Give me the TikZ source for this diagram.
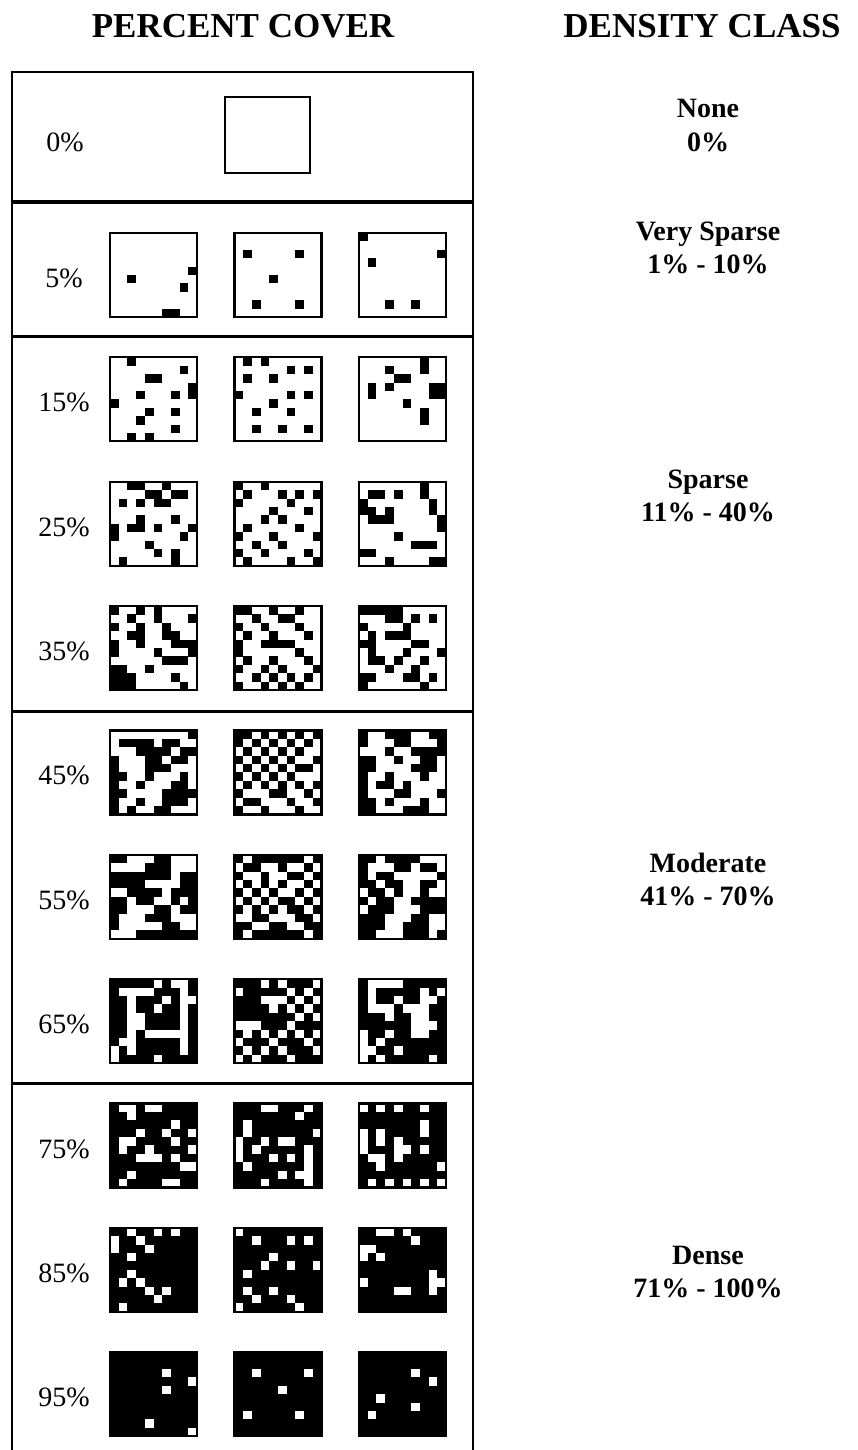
\documentclass[tikz,border=0pt]{standalone}
\usepackage{fontspec}
\setmainfont{Liberation Serif}
% 10 x 10 cover square: x, y (top left), ground, cells, rows/{columns}
\newcommand{\coversq}[5]{%
  \fill[#3] (#1,#2) rectangle ++(87,84);
  \foreach \r/\cols in {#5}{%
    \foreach \c in \cols
      \fill[#4] ({#1+\c*8.7},{#2+\r*8.4}) rectangle ++(8.75,8.45);
  }
  \draw[line width=2.2pt] (#1,#2) rectangle ++(87,84);
}
\begin{document}
\begin{tikzpicture}[x=1pt,y=-1pt,
  hdr/.style={font=\fontsize{35}{40}\selectfont\bfseries,anchor=base},
  cls/.style={font=\fontsize{28}{32}\selectfont\bfseries,anchor=base},
  pct/.style={font=\fontsize{28}{32}\selectfont,anchor=base}]
\useasboundingbox (0,0) rectangle (857,1450);
% headings
\node[hdr] (hcover) at (243,38) {PERCENT COVER};
\node[hdr] (hclass) at (702,38) {DENSITY CLASS};
% frame and class rules
\draw[line width=2pt] (12,1460) -- (12,72) -- (473,72) -- (473,1460);
\draw[line width=3pt] (12,202) -- (473,202);
\draw[line width=3pt] (12,336) -- (473,336);
\draw[line width=3pt] (12,711) -- (473,711);
\draw[line width=3pt] (12,1083) -- (473,1083);
% 0%
\node[pct] (p0) at (65,152) {0\%};
\draw[line width=1.4pt] (225,97) rectangle (310,173);
% 5%
\node[pct] (p5) at (64,287.5) {5\%};
\coversq{110}{233}{white}{black}{4/{9},5/{2},6/{8},9/{6,7}}
\coversq{234.5}{233}{white}{black}{2/{1,7},5/{4},8/{2,7}}
\coversq{359}{233}{white}{black}{0/{0},2/{9},3/{1},8/{3,6}}
% 15%
\node[pct] (p15) at (64,411.9) {15\%};
\coversq{110}{357.35}{white}{black}{0/{2},1/{8},2/{4,5},3/{9},4/{3,7,9},5/{0},6/{4,7},7/{3},8/{7},9/{2,4}}
\coversq{234.5}{357.35}{white}{black}{0/{1,3},1/{6,8},2/{1,4},4/{0,6,8},5/{4},6/{2,6},8/{2,5,8}}
\coversq{359}{357.35}{white}{black}{0/{7},1/{3,7},2/{4,5},3/{1,3,8,9},4/{1,8,9},5/{5},6/{7},7/{7}}
% 25%
\node[pct] (p25) at (64,536.2) {25\%};
\coversq{110}{481.7}{white}{black}{0/{2,3,6},1/{4,5,7,8},2/{1,3,5,6},4/{3,7},5/{0,2,3,5,9},6/{0,8},7/{4},8/{5,7},9/{1,7}}
\coversq{234.5}{481.7}{white}{black}{0/{0,3},1/{1,5,7,9},2/{0,6},3/{4,8},4/{3,5},5/{1,7},6/{0,4,9},7/{2,5},8/{0,3,8},9/{1,6,9}}
\coversq{359}{481.7}{white}{black}{0/{7},1/{1,2,4,7},2/{0,8},3/{0,1,3,8},4/{1,2,3,9},5/{9},6/{4},7/{6,7,8},8/{0,1},9/{3,8,9}}
% 35%
\node[pct] (p35) at (64,660.6) {35\%};
\coversq{110}{606.05}{white}{black}{0/{0,3,5},1/{2,5,9},2/{0,3,6},3/{2,3,6,7},4/{0,3,7,8,9},5/{0,5,9},6/{6,7,8},7/{0,1,4},8/{0,1,2,7},9/{0,1,2,8}}
\coversq{234.5}{606.05}{white}{black}{0/{0,1,4,7},1/{2,5,6},2/{0,3,7},3/{1,4,8},4/{0,3,4,5,6},5/{0,7},6/{1,4,8},7/{0,3,5,9},8/{2,4,6,8},9/{0,3,5,7}}
\coversq{359}{606.05}{white}{black}{0/{0,1,2,3,4},1/{3,4,6,8},2/{0,5},3/{1,3,4,5},4/{0,1,6,7},5/{1,5,9},6/{1,2,4,7},7/{3,6},8/{0,1,5,6,8},9/{0,7}}
% 45%
\node[pct] (p45) at (64,784.9) {45\%};
\coversq{110}{730.4}{white}{black}{0/{9},1/{1,2,3,4,6,7},2/{3,4,5,6,8,9},3/{0,4,5,7,8},4/{0,4,5,6},5/{0,1,4,8},6/{0,3,7,8},7/{0,1,6,7,8,9},8/{0,3,6,7,8},9/{0,2,5,6}}
\coversq{234.5}{730.4}{white}{black}{0/{0,1,3,5,7,9},1/{0,2,4,6,8},2/{1,3,5,7},3/{0,2,4,6,9},4/{1,3,5,7,8},5/{0,2,4,6},6/{1,3,5,7,9},7/{0,4,5,8},8/{1,2,6,9},9/{0,3,7}}
\coversq{359}{730.4}{white}{black}{0/{0,3,4,5,8,9},1/{0,4,5,9},2/{3,6,7,8,9},3/{0,1,4,7,8},4/{0,1,6,7,8},5/{0,3,7},6/{0,2,3,5},7/{0,4,5,9},8/{0,1,3,7},9/{0,1,5,6,7}}
% 55%
\node[pct] (p55) at (64,909.3) {55\%};
\coversq{110}{854.75}{black}{white}{0/{2,3,4,7,8,9},1/{0,1,2,3,7,8,9},2/{7},3/{4,5,6,7},4/{0,1,6},5/{2,5,6,8},6/{2,3,4,7},7/{1,2,3,7,8,9},8/{1,2,3,4,5,8,9},9/{0,1,2}}
\coversq{234.5}{854.75}{black}{white}{0/{1,8},1/{0,3,4,6,7,9},2/{1,2,4,5,8},3/{0,2,4,6,7,9},4/{1,3,5,6,8},5/{0,2,4,7,9},6/{1,3,5,8},7/{0,1,4,5,6,9},8/{2,3,6,7},9/{1,8}}
\coversq{359}{854.75}{black}{white}{0/{2,7,8,9},1/{1,2,3,6,9},2/{1,4,5,6,7,8},3/{2,5,6,9},4/{0,3,5,6,8,9},5/{1,4,5},6/{0,4,5,6},7/{3,4,5,8,9},8/{3,4,8,9},9/{2,3,4,8}}
% 65%
\node[pct] (p65) at (64,1033.6) {65\%};
\coversq{110}{979.1}{black}{white}{0/{5,7,8},1/{1,2,3,4,8},2/{2,6,8,9},3/{2,5,8},4/{2,3,8},5/{2,3,8},6/{2,4,5,6,7,8},7/{1,2,8},8/{0,2,8},9/{0,5}}
\coversq{234.5}{979.1}{black}{white}{0/{3,5,9},1/{0,6,8},2/{3,4,5,7,9},3/{4,6,8},4/{7,9},5/{0,1,2,6},6/{1,3,5,7,9},7/{0,4,8},8/{1,3,5,9},9/{0,2,6}}
\coversq{359}{979.1}{black}{white}{0/{1,2,3,4},1/{1,7,9},2/{1,4,7,8},3/{1,2,3,5,6,7},4/{3,6,7},5/{6,7,8},6/{0,3,6,7},7/{0,2},8/{0,1,4},9/{0,2,8}}
% 75%
\node[pct] (p75) at (64,1158) {75\%};
\coversq{110}{1103.45}{black}{white}{0/{1,2,4,5},1/{2},2/{7},3/{3,6,9},4/{1,2,7},5/{1,4,9},6/{3,4,5,7},7/{8,9},8/{2},9/{1,6,7}}
\coversq{234.5}{1103.45}{black}{white}{0/{3,4,8},1/{7},2/{1},3/{1,9},4/{0,3,5,6},5/{0,2,8},6/{0,4,6,8},7/{1,8},8/{5,7,8},9/{3,8}}
\coversq{359}{1103.45}{black}{white}{0/{0,2,4,7},2/{7},3/{0,2,7},4/{0,2,4},5/{0,4,5,7},6/{1,2,4},7/{2,9},9/{1,3,5,7,9}}
% 85%
\node[pct] (p85) at (64,1282.3) {85\%};
\coversq{110}{1227.8}{black}{white}{0/{2,5,7},1/{0,3},2/{0,4},3/{2},5/{2},6/{1,3},7/{4,6},8/{5},9/{1}}
\coversq{234.5}{1227.8}{black}{white}{0/{0},1/{2,6,8},3/{4},4/{3,6,9},5/{1},7/{1,4},8/{2,6},9/{0,7}}
\coversq{359}{1227.8}{black}{white}{0/{2,3,5},1/{6},2/{0,1},3/{0,2},5/{8},6/{0,8,9},7/{4,5,8}}
% 95%
\node[pct] (p95) at (64,1406.7) {95\%};
\coversq{110}{1352.15}{black}{white}{2/{6},3/{9},4/{6},8/{4},9/{9}}
\coversq{234.5}{1352.15}{black}{white}{2/{2,8},4/{5},7/{1,7}}
\coversq{359}{1352.15}{black}{white}{2/{6},3/{8},5/{2},6/{6},7/{1}}
% density classes
\node[cls] (cnone) at (708,118) {None};
\node[cls] (cnonerng) at (708,152) {0\%};
\node[cls] (cvsparse) at (708,240) {Very Sparse};
\node[cls] (cvsparserng) at (708,273) {1\% - 10\%};
\node[cls] (csparse) at (708,488) {Sparse};
\node[cls] (csparserng) at (708,521) {11\% - 40\%};
\node[cls] (cmod) at (708,872) {Moderate};
\node[cls] (cmodrng) at (708,905) {41\% - 70\%};
\node[cls] (cdense) at (708,1264) {Dense};
\node[cls] (cdenserng) at (708,1297) {71\% - 100\%};
\end{tikzpicture}
\end{document}
